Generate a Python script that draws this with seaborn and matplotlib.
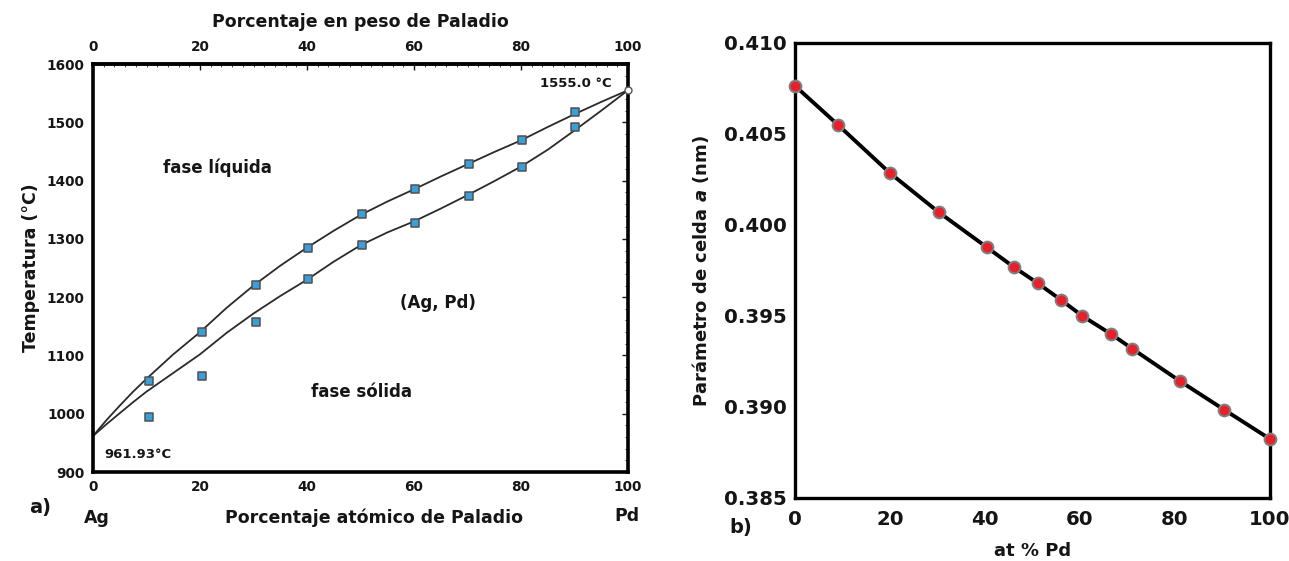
import matplotlib
matplotlib.use("Agg")
import matplotlib.pyplot as plt
from matplotlib.ticker import MultipleLocator
import seaborn as sns
import pandas as pd

# --- Ag-Pd phase diagram: measured points ---
pd_at = [10.5, 20.4, 30.4, 40.2, 50.2, 60.1, 70.2, 80.2, 90.1]
liquidus_pts = [1056, 1140, 1221, 1285, 1342, 1385, 1428, 1469, 1517]
solidus_pts = [995, 1064, 1157, 1232, 1290, 1327, 1373, 1424, 1492]

# liquidus / solidus curves
curve_x = [0, 2.5, 5, 7.5, 10, 15, 20, 25, 30, 35, 40, 45, 50, 55, 60, 65, 70, 75, 80, 85,
           90, 95, 100]
liquidus_curve = [962, 989, 1014, 1038, 1060, 1102, 1140, 1182, 1220, 1254, 1285, 1314,
                  1341, 1364, 1385, 1407, 1428, 1449, 1469, 1492, 1514, 1535, 1555]
solidus_curve = [962, 982, 1001, 1020, 1038, 1070, 1102, 1139, 1172, 1202, 1230, 1261,
                 1289, 1311, 1330, 1352, 1375, 1399, 1424, 1453, 1486, 1520, 1555]

ag_melt = 961.93
pd_melt = 1555.0

temp_ticks = [900, 1000, 1100, 1200, 1300, 1400, 1500, 1600]
comp_ticks = [0, 20, 40, 60, 80, 100]

# --- lattice parameter vs composition ---
lat_x = [0, 9.0, 19.9, 30.2, 40.4, 46.1, 51.1, 56.0, 60.5, 66.5, 71.0, 81.1, 90.4, 100]
lat_a = [0.40764, 0.40551, 0.40287, 0.40071, 0.39877, 0.39768, 0.39680, 0.39588,
         0.39500, 0.39401, 0.39320, 0.39141, 0.38984, 0.38824]
lat_ticks = [0.385, 0.390, 0.395, 0.400, 0.405, 0.410]

sns.set_style("white")
plt.rcParams["font.family"] = ["DejaVu Sans"]
plt.rcParams["axes.linewidth"] = 2.5
ink = "#151515"

fig = plt.figure(figsize=(12.89, 5.61), dpi=100)

# ---------------- panel a ----------------
ax1 = fig.add_axes([0.0722, 0.1586, 0.4150, 0.7273])
curves = pd.DataFrame({"x": curve_x, "liq": liquidus_curve, "sol": solidus_curve})
sns.lineplot(data=curves, x="x", y="liq", ax=ax1, color="#2a2a2a", lw=1.3)
sns.lineplot(data=curves, x="x", y="sol", ax=ax1, color="#2a2a2a", lw=1.3)
pts = pd.DataFrame({"x": pd_at * 2, "T": liquidus_pts + solidus_pts})
sns.scatterplot(data=pts, x="x", y="T", ax=ax1, marker="s", s=28,
                color="#3a9fd8", edgecolor="#505050", linewidth=1.1, zorder=3)
ax1.plot([100], [pd_melt], marker="o", ms=5, mfc="white", mec="#555555", mew=1.0,
         zorder=3, clip_on=False)

ax1.set_xlim(0, 100)
ax1.set_ylim(900, 1600)
ax1.set_xticks(comp_ticks)
ax1.set_yticks(temp_ticks)
ax1.xaxis.set_minor_locator(MultipleLocator(2))
ax1.yaxis.set_minor_locator(MultipleLocator(20))
ax1.tick_params(which="major", direction="in", length=4, width=1.0, labelsize=9.8,
                colors=ink, pad=6, right=True)
ax1.tick_params(which="minor", direction="in", length=2, width=0.6, right=True)
for lab in ax1.get_xticklabels() + ax1.get_yticklabels():
    lab.set_fontweight("bold")
ax1.set_xlabel("")
ax1.set_ylabel("Temperatura (°C)", fontsize=12.5, fontweight="bold", color=ink, labelpad=5)
for s in ax1.spines.values():
    s.set_color("black")
    s.set_linewidth(2.6)

# upper axis: weight percent
top = ax1.secondary_xaxis("top")
top.set_xticks(comp_ticks)
top.xaxis.set_minor_locator(MultipleLocator(2))
top.tick_params(which="major", direction="in", length=4, width=1.0, labelsize=9.8,
                colors=ink, pad=7.5)
top.tick_params(which="minor", direction="in", length=2, width=0.6)
for lab in top.get_xticklabels():
    lab.set_fontweight("bold")
top.set_xlabel("Porcentaje en peso de Paladio", fontsize=12.5, fontweight="bold",
               color=ink, labelpad=9)
top.spines["top"].set_linewidth(2.6)

ax1.text(23.3, 1422, "fase líquida", ha="center", va="center", fontsize=12,
         fontweight="bold", color=ink)
ax1.text(64.5, 1190, "(Ag, Pd)", ha="center", va="center", fontsize=12,
         fontweight="bold", color=ink)
ax1.text(50.1, 1038, "fase sólida", ha="center", va="center", fontsize=12,
         fontweight="bold", color=ink)
ax1.text(2.2, 930, f"{ag_melt:.2f}°C", ha="left", va="center", fontsize=9.5,
         fontweight="bold", color=ink)
ax1.text(96.9, 1567, f"{pd_melt:.1f} °C", ha="right", va="center", fontsize=9.5,
         fontweight="bold", color=ink)

fig.text(40 / 1289, 1 - 508 / 561, "a)", ha="center", va="center", fontsize=14,
         fontweight="bold", color=ink)
fig.text(84 / 1289, 1 - 518 / 561, "Ag", ha="left", va="center", fontsize=12.5,
         fontweight="bold", color=ink)
fig.text(627 / 1289, 1 - 516 / 561, "Pd", ha="center", va="center", fontsize=12.5,
         fontweight="bold", color=ink)
fig.text(374 / 1289, 1 - 518 / 561, "Porcentaje atómico de Paladio", ha="center",
         va="center", fontsize=12.5, fontweight="bold", color=ink)

# ---------------- panel b ----------------
ax2 = fig.add_axes([0.6168, 0.1123, 0.3685, 0.8111])
lat = pd.DataFrame({"x": lat_x, "a": lat_a})
sns.lineplot(data=lat, x="x", y="a", ax=ax2, color="black", lw=2.8, marker="o",
             markersize=8.5, markerfacecolor="#e8202a", markeredgecolor="#808080",
             markeredgewidth=1.4, clip_on=False, zorder=3)
ax2.set_xlim(0, 100)
ax2.set_ylim(0.385, 0.410)
ax2.set_xticks(comp_ticks)
ax2.set_yticks(lat_ticks)
ax2.set_yticklabels([f"{v:.3f}" for v in lat_ticks])
ax2.tick_params(which="major", direction="in", length=4, width=1.0, labelsize=14.2,
                colors=ink, pad=9)
ax2.tick_params(axis="y", pad=6)
for lab in ax2.get_xticklabels() + ax2.get_yticklabels():
    lab.set_fontweight("bold")
ax2.set_xlabel("at % Pd", fontsize=13, fontweight="bold", color=ink, labelpad=9)
ax2.set_ylabel(r"Parámetro de celda $\boldsymbol{a}$ (nm)", fontsize=13,
               fontweight="bold", color=ink, labelpad=9)
for s in ax2.spines.values():
    s.set_color("black")
    s.set_linewidth(2.4)

fig.text(741 / 1289, 1 - 527 / 561, "b)", ha="center", va="center", fontsize=14,
         fontweight="bold", color=ink)

fig.savefig("out.png", dpi=100)
